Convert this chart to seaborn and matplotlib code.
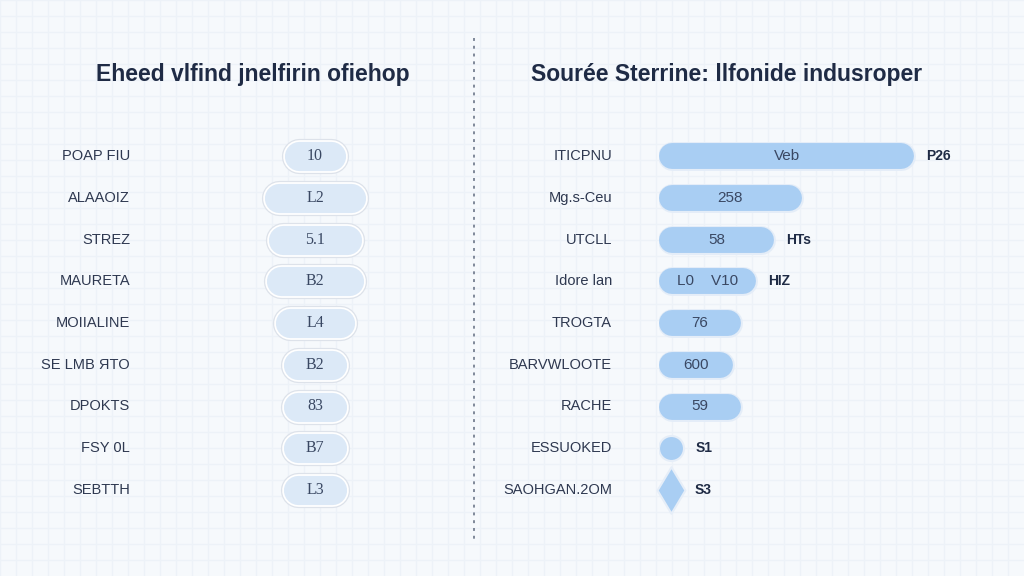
import numpy as np
import pandas as pd
import seaborn as sns
import matplotlib.pyplot as plt

# left panel: badge widths and texts
left_labels = ["POAP FIU", "ALAAOIZ", "STREZ", "MAURETA", "MOIIALINE",
               "SE LMB ЯTO", "DPOKTS", "FSY 0L", "SEBTTH"]
left_widths = [61, 101, 93, 98, 80, 63, 63, 63, 63]
left_texts = ["10", "L2", "5.1", "B2", "L4", "B2", "83", "B7", "L3"]

# right panel: bar lengths and texts
right_labels = ["ITICPNU", "Mg.s-Ceu", "UTCLL", "Idore lan", "TROGTA",
                "BARVWLOOTE", "RACHE", "ESSUOKED", "SAOHGAN.2OM"]
right_values = [100, 56, 45, 38, 32, 29, 32, 9.8, 9.4]
right_inner = ["Veb", "258", "58", "L0    V10", "76", "600", "59", "", ""]
right_outer = ["P26", "", "HTs", "HIZ", "", "", "", "S1", "S3"]

title_left = "Eheed vlfind jnelfirin ofiehop"
title_right = "Sourée Sterrine: llfonide indusroper"

sns.set_theme(style="white")
plt.rcParams["font.family"] = ["Liberation Sans", "DejaVu Sans"]

W, H = 1024, 576
fig = plt.figure(figsize=(W / 100, H / 100), dpi=100)
fig.patch.set_facecolor("#f6f9fc")

# faint checker grid in the background
bg = fig.add_axes([0, 0, 1, 1], zorder=-10)
bg.set_xlim(0, W)
bg.set_ylim(H, 0)
for v in np.arange(0, W, 16):
    bg.axvline(v, color="#edf2f8", lw=1)
for v in np.arange(0, H, 16):
    bg.axhline(v, color="#edf2f8", lw=1)
bg.plot([474, 474], [38, 540], color="#7f8899", lw=1.4, ls=(0, (1.5, 2.5)))
bg.axis("off")

dark = "#1f2b45"
text_c = "#2e3850"
row_h = 41.75
top = 156 - row_h / 2
ax_h = 9 * row_h
PT = 72 / 100  # points per pixel


def axes_px(x0, x1):
    return fig.add_axes([x0 / W, 1 - (top + ax_h) / H, (x1 - x0) / W, ax_h / H])


def scales(ax):
    fig.canvas.draw()
    o = ax.transData.transform((0, 0))
    sx = ax.transData.transform((1, 0))[0] - o[0]
    sy = abs(ax.transData.transform((0, 1))[1] - o[1])
    return sx, sy


def pill(ax, x0, x1, yc, hpx, color, z):
    # straight segment with round caps -> perfect capsule
    ax.plot([x0, x1], [yc, yc], color=color, lw=hpx * PT,
            solid_capstyle="round", zorder=z)


# ---- left panel ----
axl = axes_px(145, 485)
dfl = pd.DataFrame({"label": left_labels, "width": left_widths})
sns.barplot(data=dfl, x="width", y="label", ax=axl, width=0.7, color="#dce9f7")
axl.set_xlim(-170, 170)
axl.set_ylim(8.5, -0.5)
axl.axis("off")
sx, sy = scales(axl)
for p, txt, lab in zip(list(axl.patches), left_texts, left_labels):
    y, w, h = p.get_y(), p.get_width(), p.get_height()
    p.set_visible(False)
    yc = y + h / 2
    hpx = h * sy
    r = hpx / 2 / sx
    pill(axl, -w / 2 + r, w / 2 - r, yc, hpx + 6, "#dde2ea", 2)
    pill(axl, -w / 2 + r, w / 2 - r, yc, hpx + 3.5, "#ffffff", 3)
    pill(axl, -w / 2 + r, w / 2 - r, yc, hpx, "#dce9f7", 4)
    axl.text(0, yc, txt, ha="center", va="center", fontsize=11.5,
             color="#3a4863", family=["Liberation Serif", "DejaVu Serif"], zorder=5)
    axl.text(-185 * 1 / sx, yc, lab, ha="right", va="center", fontsize=10.5,
             color=text_c, clip_on=False, zorder=5)
fig.text(253 / W, 1 - 75 / H, title_left, ha="center", va="center",
         fontsize=16.5, fontweight="bold", color=dark)

# ---- right panel ----
axr = axes_px(659, 1000)
dfr = pd.DataFrame({"label": right_labels, "value": right_values})
sns.barplot(data=dfr, x="value", y="label", ax=axr, width=0.62, color="#a9cef3")
axr.set_xlim(0, 341 / 2.55)
axr.set_ylim(8.5, -0.5)
axr.axis("off")
sx, sy = scales(axr)
for i, p in enumerate(list(axr.patches)):
    y, w, h = p.get_y(), p.get_width(), p.get_height()
    p.set_visible(False)
    yc = y + h / 2
    hpx = h * sy
    r = hpx / 2 / sx
    if i == len(right_values) - 1:
        axr.scatter([w / 2], [yc], marker="d", s=560, color="#a9cef3",
                    edgecolor="#e6eef8", lw=1.5, zorder=3, clip_on=False)
    elif w <= 2 * r:
        axr.scatter([w / 2], [yc], marker="o", s=(w * sx * PT) ** 2,
                    color="#a9cef3", edgecolor="#e6eef8", lw=1.5, zorder=3)
    else:
        pill(axr, r, w - r, yc, hpx + 3, "#e4edf8", 2)
        pill(axr, r, w - r, yc, hpx, "#a9cef3", 3)
    if right_inner[i]:
        axr.text(w / 2, yc, right_inner[i], ha="center", va="center",
                 fontsize=11, color="#3a4863", zorder=4)
    if right_outer[i]:
        axr.text(w + 12 / sx, yc, right_outer[i], ha="left", va="center",
                 fontsize=10, fontweight="bold", color=dark, zorder=4)
    axr.text(-47 / sx, yc, right_labels[i], ha="right", va="center",
             fontsize=10.5, color=text_c, clip_on=False, zorder=4)
fig.text(727 / W, 1 - 75 / H, title_right, ha="center", va="center",
         fontsize=16.5, fontweight="bold", color=dark)

fig.savefig("out.png", dpi=100, facecolor=fig.get_facecolor())
